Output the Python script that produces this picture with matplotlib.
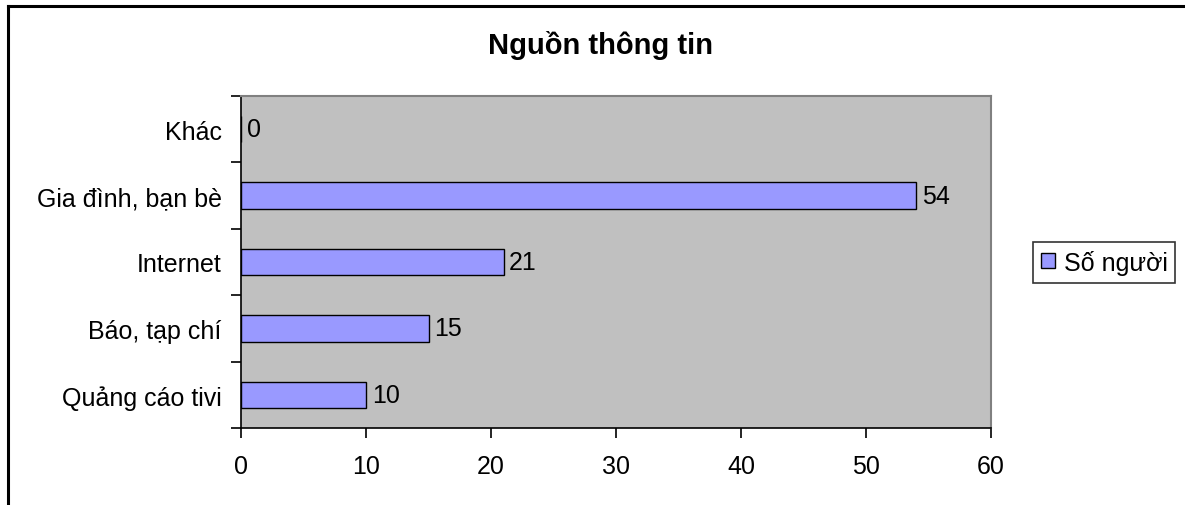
import matplotlib.pyplot as plt
import matplotlib.lines as mlines
import numpy as np

plt.rcParams['font.family'] = ['Liberation Sans', 'DejaVu Sans']

# du lieu
categories = ['Quảng cáo tivi', 'Báo, tạp chí', 'Internet', 'Gia đình, bạn bè', 'Khác']
values = [10, 15, 21, 54, 0]
series_name = 'Số người'
title = 'Nguồn thông tin'

fs = 18

fig = plt.figure(figsize=(11.85, 5.06), dpi=100)
W, H = 1185, 506
ax = fig.add_axes([241 / W, 1 - 429 / H, (991 - 241) / W, (429 - 97) / H])
ax.set_facecolor('#C0C0C0')

y = np.arange(len(categories))
bars = ax.barh(y, values, height=0.4, color='#9999FF', edgecolor='black', linewidth=1,
               label=series_name)
for yi, v in zip(y, values):
    ax.text(v + 0.45, yi, str(v), va='center', ha='left', fontsize=fs)

ax.set_xlim(0, 60)
ax.set_ylim(-0.5, len(categories) - 0.5)
ax.set_xticks(np.arange(0, 61, 10))
ax.set_yticks(y)
ax.set_yticklabels(categories)
ax.set_yticks(np.arange(-0.5, len(categories), 1), minor=True)
ax.tick_params(axis='y', which='major', length=0, pad=14, labelsize=fs)
ax.tick_params(axis='y', which='minor', length=7, width=1.2, direction='out')
ax.tick_params(axis='x', length=7, width=1.2, direction='out', pad=12, labelsize=fs)

for s in ['top', 'right']:
    ax.spines[s].set_color('#808080')
    ax.spines[s].set_linewidth(1.5)
for s in ['left', 'bottom']:
    ax.spines[s].set_color('black')
    ax.spines[s].set_linewidth(1.2)

fig.text(600 / W, 1 - 46 / H, title, ha='center', va='center', fontsize=21, fontweight='bold')

leg = ax.legend(loc='center left', bbox_to_anchor=(1033 / W, 1 - 263 / H),
                bbox_transform=fig.transFigure, frameon=True, fancybox=False,
                fontsize=fs, handlelength=0.55, handleheight=0.55, handletextpad=0.35,
                borderpad=0.32, borderaxespad=0)
leg.get_frame().set_edgecolor('black')
leg.get_frame().set_linewidth(1.2)

# khung ngoai
fig.add_artist(mlines.Line2D([8 / W, 8 / W], [0, 1 - 7 / H], color='black', lw=2.2,
                             transform=fig.transFigure))
fig.add_artist(mlines.Line2D([8 / W, 1], [1 - 7 / H, 1 - 7 / H], color='black', lw=2.2,
                             transform=fig.transFigure))

fig.savefig('out.png', dpi=100)
